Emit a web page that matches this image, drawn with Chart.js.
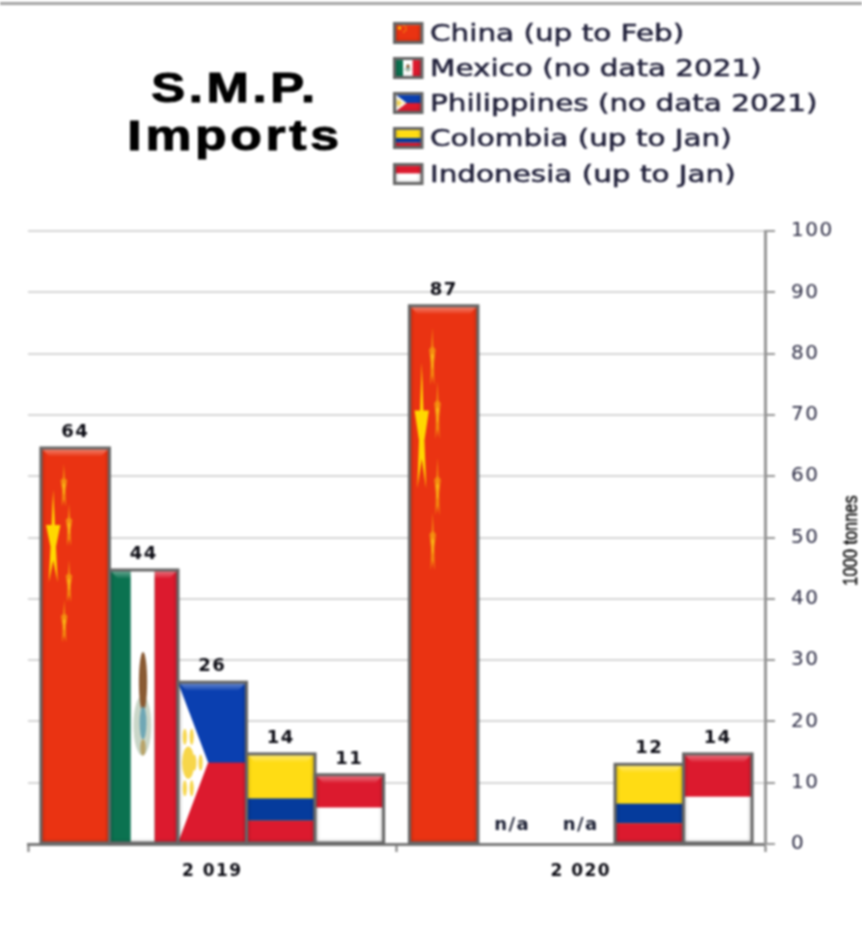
<!DOCTYPE html>
<html><head><meta charset="utf-8">
<style>html,body{margin:0;padding:0;background:#fff}canvas{display:block;filter:blur(.8px)}</style>
<script src="https://cdn.jsdelivr.net/npm/chart.js@4"></script></head>
<body><canvas id="c" width="862" height="937"></canvas>
<script>
const categories = ['2 019', '2 020'];
const chinaValues = [64.6, 87.8];
const mexicoValues = [44.7, null];
const philippinesValues = [26.4, null];
const colombiaValues = [14.7, 13];
const indonesiaValues = [11.3, 14.7];
const chinaLabels = ['64', '87'];
const mexicoLabels = ['44', 'n/a'];
const philippinesLabels = ['26', 'n/a'];
const colombiaLabels = ['14', '12'];
const indonesiaLabels = ['11', '14'];
const titleLines = ['S.M.P.', 'Imports'];
const axisTitle = '1000 tonnes';
const RED = '#dc1a2e';

function star(ctx, cx, cy, rx, ry, inner) {
  ctx.beginPath();
  for (let i = 0; i < 10; i++) {
    const a = -Math.PI / 2 + i * Math.PI / 5, k = i % 2 ? (inner || 0.38) : 1;
    const px = cx + Math.cos(a) * rx * k, py = cy + Math.sin(a) * ry * k;
    i ? ctx.lineTo(px, py) : ctx.moveTo(px, py);
  }
  ctx.closePath(); ctx.fill();
}
const flags = {
  china(c, x, y, w, h) {
    c.fillStyle = '#ea3312'; c.fillRect(x, y, w, h);
    c.fillStyle = '#ffd800';
    star(c, x + w * .18, y + h * .235, w * .11, h * .13);
    [[.335, .1], [.41, .2], [.41, .342], [.34, .444]].forEach(p => {
      c.fillStyle = '#f2860f';
      star(c, x + w * p[0], y + h * p[1], w * .05, h * .06, .5);
      c.fillStyle = '#fbb516';
      star(c, x + w * p[0], y + h * p[1], w * .025, h * .025, .5);
    });
  },
  mexico(c, x, y, w, h) {
    c.fillStyle = '#0b7250'; c.fillRect(x, y, w * .31, h);
    c.fillStyle = '#fff'; c.fillRect(x + w * .31, y, w * .35, h);
    c.fillStyle = RED; c.fillRect(x + w * .66, y, w * .34, h);
    const cx = x + w * .49;
    c.fillStyle = '#c9d6c8';
    c.beginPath(); c.ellipse(cx - w * .01, y + h * .57, w * .13, h * .11, 0, 0, 7); c.fill();
    c.fillStyle = '#8a5a33';
    c.beginPath(); c.ellipse(cx, y + h * .41, w * .06, h * .11, 0, 0, 7); c.fill();
    c.fillStyle = '#6fa7b5';
    c.beginPath(); c.ellipse(cx, y + h * .56, w * .05, h * .06, 0, 0, 7); c.fill();
    c.fillStyle = '#b9a46a';
    c.beginPath(); c.ellipse(cx, y + h * .65, w * .04, h * .03, 0, 0, 7); c.fill();
  },
  philippines(c, x, y, w, h) {
    c.fillStyle = '#0a3fb0'; c.fillRect(x, y, w, h / 2);
    c.fillStyle = RED; c.fillRect(x, y + h / 2, w, h / 2);
    c.fillStyle = '#fff';
    c.beginPath(); c.moveTo(x, y); c.lineTo(x + w * .44, y + h / 2); c.lineTo(x, y + h); c.closePath(); c.fill();
    c.fillStyle = '#f7d64a';
    c.beginPath(); c.ellipse(x + w * .15, y + h / 2, w * .09, h * .1, 0, 0, 7); c.fill();
    [[.1, .34], [.2, .34], [.1, .66], [.2, .66], [.24, .5], [.33, .5]].forEach(p => {
      c.beginPath(); c.ellipse(x + w * p[0], y + h * p[1], w * .03, h * .05, 0, 0, 7); c.fill();
    });
  },
  colombia(c, x, y, w, h) {
    c.fillStyle = '#ffdc14'; c.fillRect(x, y, w, h * .5);
    c.fillStyle = '#053b9c'; c.fillRect(x, y + h * .5, w, h * .25);
    c.fillStyle = RED; c.fillRect(x, y + h * .75, w, h * .25);
  },
  indonesia(c, x, y, w, h) {
    c.fillStyle = RED; c.fillRect(x, y, w, h * .48);
    c.fillStyle = '#fff'; c.fillRect(x, y + h * .48, w, h * .52);
  }
};
function bevel(c, x, y, w, h) {
  const t = Math.min(8, h * .12);
  let g = c.createLinearGradient(0, y, 0, y + t);
  g.addColorStop(0, 'rgba(255,255,255,.42)'); g.addColorStop(1, 'rgba(255,255,255,.05)');
  c.fillStyle = g;
  c.beginPath(); c.moveTo(x, y); c.lineTo(x + w, y); c.lineTo(x + w - t, y + t); c.lineTo(x + t, y + t); c.closePath(); c.fill();
  g = c.createLinearGradient(x, 0, x + 5, 0);
  g.addColorStop(0, 'rgba(0,0,0,.2)'); g.addColorStop(1, 'rgba(0,0,0,0)');
  c.fillStyle = g; c.fillRect(x, y, 5, h);
  g = c.createLinearGradient(x + w - 5, 0, x + w, 0);
  g.addColorStop(0, 'rgba(0,0,0,0)'); g.addColorStop(1, 'rgba(0,0,0,.2)');
  c.fillStyle = g; c.fillRect(x + w - 5, y, 5, h);
  g = c.createLinearGradient(0, y + h - 5, 0, y + h);
  g.addColorStop(0, 'rgba(0,0,0,0)'); g.addColorStop(1, 'rgba(0,0,0,.14)');
  c.fillStyle = g; c.fillRect(x, y + h - 5, w, 5);
}
function flagBox(c, key, x, y, w, h, lw) {
  c.save();
  c.beginPath(); c.rect(x, y, w, h); c.clip();
  flags[key](c, x, y, w, h);
  bevel(c, x, y, w, h);
  c.restore();
  c.lineWidth = lw; c.strokeStyle = '#666';
  c.strokeRect(x, y, w, h);
}
function stretched(c, text, x, y, font, color, sx, align, spacing, stroke) {
  c.save();
  c.font = font; c.fillStyle = color; c.textAlign = align; c.textBaseline = 'alphabetic';
  c.letterSpacing = (spacing || 0) + 'px';
  c.translate(x, y); c.scale(sx, 1); c.fillText(text, 0, 0);
  if (stroke) { c.strokeStyle = color; c.lineWidth = stroke; c.strokeText(text, 0, 0); }
  c.restore();
}
const flagPlugin = {
  id: 'flagPlugin',
  beforeDraw(chart) { chart.ctx.save(); chart.ctx.letterSpacing = '1.5px'; },
  afterDatasetsDraw(chart) {
    const c = chart.ctx;
    chart.data.datasets.forEach((ds, di) => {
      chart.getDatasetMeta(di).data.forEach((el, i) => {
        const p = el.getProps(['x', 'y', 'base', 'width'], true);
        const hasValue = ds.data[i] !== null;
        if (hasValue) flagBox(c, ds.flag, p.x - p.width / 2, p.y, p.width, p.base - p.y, 3);
        c.save();
        c.font = 'bold 18px "DejaVu Sans"'; c.letterSpacing = '1.5px';
        c.fillStyle = hasValue ? '#0c0c14' : '#1c2034';
        c.textAlign = 'center'; c.textBaseline = 'alphabetic';
        c.fillText(ds.valueLabels[i], p.x, hasValue ? p.y - 11 : p.base - 14);
        c.restore();
      });
    });
  },
  afterDraw(chart) {
    const c = chart.ctx;
    c.restore();
    c.save();
    c.letterSpacing = '0px';
    c.fillStyle = '#a3a3a3'; c.fillRect(0, 2, chart.width, 3);
    stretched(c, titleLines[0], 235, 102, 'bold 42px "Liberation Sans"', '#000', 1.21, 'center', 3, 1);
    stretched(c, titleLines[1], 235, 150, 'bold 42px "Liberation Sans"', '#000', 1.23, 'center', 3, 1);
    const rows = [33, 68, 103, 138, 174];
    chart.data.datasets.forEach((ds, i) => {
      flagBox(c, ds.flag, 394.5, rows[i] - 9.5, 27.5, 19, 3);
      stretched(c, ds.label, 430, rows[i] + 8, '23px "DejaVu Sans"', '#20203a', 1.28, 'left', 0, .5);
    });
    const s = chart.scales.y;
    c.translate(857, (s.top + s.bottom) / 2 + 3);
    c.rotate(-Math.PI / 2);
    stretched(c, axisTitle, 0, 0, '20px "Liberation Sans"', '#000', .82, 'center', 0, .4);
    c.restore();
  }
};
const mk = (label, flag, data, valueLabels, color) => ({
  label, flag, data, valueLabels, backgroundColor: color, borderColor: '#666', borderWidth: 0
});
new Chart(document.getElementById('c'), {
  type: 'bar',
  plugins: [flagPlugin],
  data: {
    labels: categories,
    datasets: [
      mk('China (up to Feb)', 'china', chinaValues, chinaLabels, '#ea3312'),
      mk('Mexico (no data 2021)', 'mexico', mexicoValues, mexicoLabels, '#0b7250'),
      mk('Philippines (no data 2021)', 'philippines', philippinesValues, philippinesLabels, '#0a3fb0'),
      mk('Colombia (up to Jan)', 'colombia', colombiaValues, colombiaLabels, '#ffdc14'),
      mk('Indonesia (up to Jan)', 'indonesia', indonesiaValues, indonesiaLabels, '#dc1a2e')
    ]
  },
  options: {
    responsive: false, animation: false,
    devicePixelRatio: 1,
    layout: { padding: { left: 28, top: 231, right: 0, bottom: 0 } },
    plugins: { legend: { display: false }, title: { display: false }, tooltip: { enabled: false } },
    datasets: { bar: { categoryPercentage: .93, barPercentage: 1 } },
    scales: {
      x: {
        afterFit(s) { s.height = 93; },
        border: { color: '#7a7a7a', width: 3 },
        grid: { drawOnChartArea: false, tickColor: '#7a7a7a', tickWidth: 2, tickLength: 8 },
        ticks: { font: { family: '"DejaVu Sans"', size: 17, weight: 'bold' }, color: '#0c0c14', padding: 9, maxRotation: 0 }
      },
      y: {
        position: 'right', min: 0, max: 100,
        afterFit(s) { s.width = 97; },
        border: { color: '#969696', width: 3 },
        grid: { color: '#d6d6d6', lineWidth: 2, tickColor: '#969696', tickLength: 10 },
        ticks: { stepSize: 10, font: { family: '"DejaVu Sans"', size: 20 }, color: '#2c2c44', padding: 16 }
      }
    }
  }
});
</script></body></html>
